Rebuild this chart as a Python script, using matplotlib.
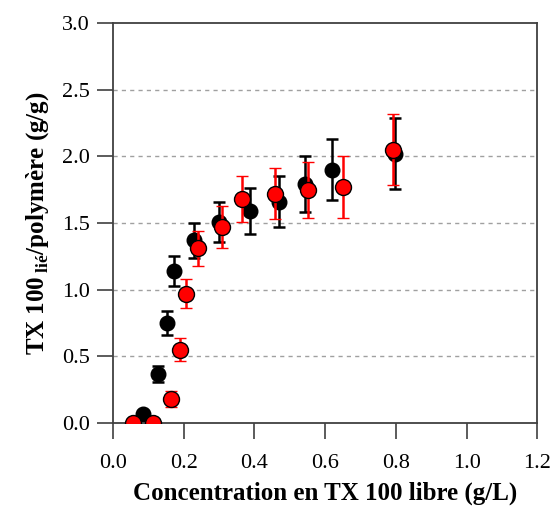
import numpy as np
import matplotlib
matplotlib.use("Agg")
matplotlib.rcParams.update({
    'font.family': 'serif',
    'font.serif': ['Liberation Serif', 'DejaVu Serif'],
    'font.size': 13,
    'mathtext.fontset': 'custom',
    'mathtext.rm': 'Liberation Serif',
    'mathtext.bf': 'Liberation Serif:bold',
})
from matplotlib import pyplot as plt

# black series
x_black = [0.086, 0.126, 0.152, 0.172, 0.230, 0.299, 0.387, 0.470, 0.542, 0.620, 0.797]
y_black = [0.07, 0.37, 0.75, 1.14, 1.37, 1.51, 1.59, 1.66, 1.79, 1.90, 2.02]
e_black = [0.02, 0.06, 0.09, 0.11, 0.13, 0.15, 0.17, 0.19, 0.21, 0.23, 0.265]

# red series
x_red = [0.057, 0.114, 0.164, 0.189, 0.206, 0.241, 0.309, 0.365, 0.458, 0.552, 0.649, 0.792]
y_red = [0.0, 0.0, 0.18, 0.55, 0.97, 1.31, 1.47, 1.68, 1.72, 1.75, 1.77, 2.05]
e_red = [0.0, 0.0, 0.06, 0.085, 0.11, 0.13, 0.155, 0.175, 0.19, 0.21, 0.23, 0.265]

xticks = [0.0, 0.2, 0.4, 0.6, 0.8, 1.0, 1.2]
yticks = [0.0, 0.5, 1.0, 1.5, 2.0, 2.5, 3.0]

fig = plt.figure(figsize=(5.54, 5.12), dpi=100)
ax = fig.add_axes([0.204, 0.174, 0.766, 0.781])

for y in yticks[1:-1]:
    ax.axhline(y, color='#a0a0a0', lw=1.0, ls=(0, (3, 3)), zorder=0)

ax.errorbar(x_black, y_black, yerr=e_black, fmt='o', color='black', ms=10.5,
            mec='black', ecolor='black', elinewidth=1.8, capsize=4, capthick=1.8, zorder=2)
ax.errorbar(x_red, y_red, yerr=e_red, fmt='o', color='red', ms=11.5,
            mec='black', mew=1.0, ecolor='red', elinewidth=1.8, capsize=4, capthick=1.8, zorder=3)

ax.set_xlim(0, 1.2)
ax.set_ylim(0, 3.0)
ax.set_xticks(xticks)
ax.set_yticks(yticks)
ax.set_xticklabels(['%.1f' % v for v in xticks])
ax.set_yticklabels(['%.1f' % v for v in yticks])
ax.tick_params(direction='out', length=11.5, width=1.2, color='#404040', labelsize=16)
ax.tick_params(axis='x', pad=11)
ax.tick_params(axis='y', pad=5)
for s in ax.spines.values():
    s.set_color('#404040')
    s.set_linewidth(1.3)

ax.set_xlabel('Concentration en TX 100 libre (g/L)', fontsize=18, fontweight='bold', labelpad=6)
ax.set_ylabel(r'TX 100$\,_{\mathregular{lié}}$/polymère (g/g)', fontsize=18, fontweight='bold', labelpad=8)

plt.savefig('out.png', dpi=100)
plt.close('all')
